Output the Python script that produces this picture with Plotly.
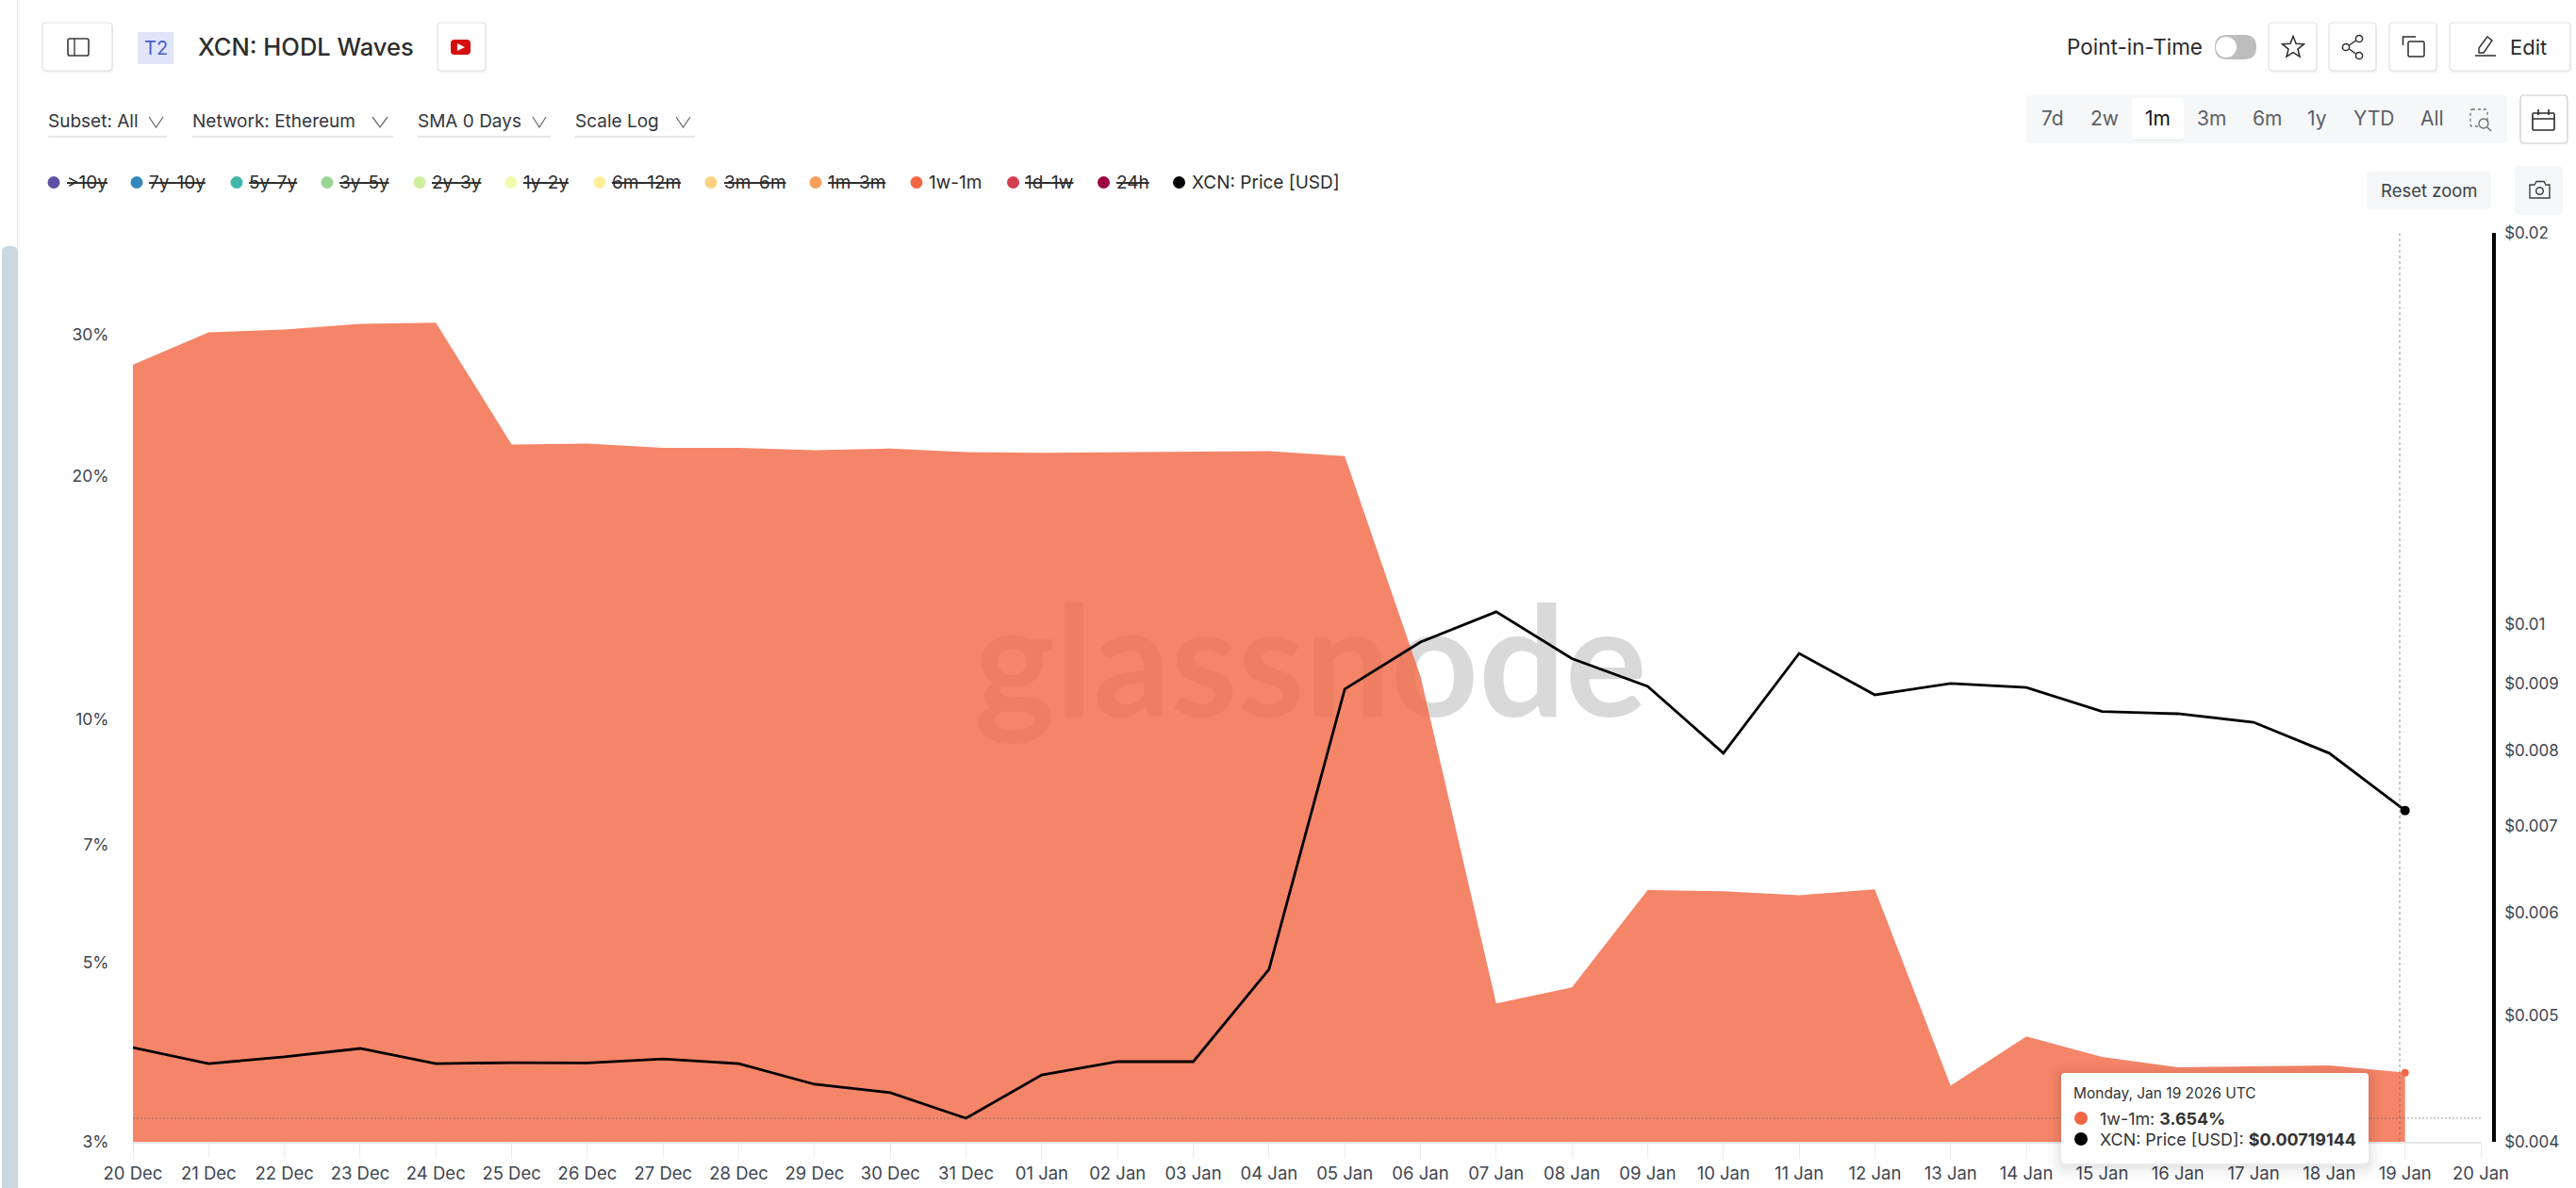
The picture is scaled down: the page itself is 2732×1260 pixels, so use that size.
import math
import re
import plotly.graph_objects as go

# ---------- data ----------
dates = [
    "2025-12-20", "2025-12-21", "2025-12-22", "2025-12-23", "2025-12-24", "2025-12-25",
    "2025-12-26", "2025-12-27", "2025-12-28", "2025-12-29", "2025-12-30", "2025-12-31",
    "2026-01-01", "2026-01-02", "2026-01-03", "2026-01-04", "2026-01-05", "2026-01-06",
    "2026-01-07", "2026-01-08", "2026-01-09", "2026-01-10", "2026-01-11", "2026-01-12",
    "2026-01-13", "2026-01-14", "2026-01-15", "2026-01-16", "2026-01-17", "2026-01-18",
    "2026-01-19",
]
share_1w_1m = [
    27.5, 30.16, 30.4, 30.9, 31.0, 21.9, 21.96, 21.7, 21.7, 21.55, 21.65, 21.44,
    21.39, 21.44, 21.46, 21.5, 21.2, 11.31, 4.45, 4.66, 6.15, 6.13, 6.06, 6.16,
    3.52, 4.05, 3.82, 3.71, 3.72, 3.73, 3.654,
]
price_usd = [
    0.004726, 0.004594, 0.004649, 0.004719, 0.004594, 0.004602, 0.0046, 0.004632,
    0.004594, 0.004429, 0.004363, 0.00417, 0.004503, 0.00461, 0.00461, 0.005429,
    0.008916, 0.009691, 0.010224, 0.009412, 0.008961, 0.00796, 0.009499, 0.008826,
    0.009005, 0.008943, 0.008569, 0.008536, 0.008408, 0.00796, 0.00719144,
]
left_ticks = [3, 5, 7, 10, 20, 30]
left_tick_labels = ["3%", "5%", "7%", "10%", "20%", "30%"]
right_ticks = [0.004, 0.005, 0.006, 0.007, 0.008, 0.009, 0.01, 0.02]
right_tick_labels = ["$0.004", "$0.005", "$0.006", "$0.007", "$0.008", "$0.009", "$0.01", "$0.02"]
legend_names = ["&gt;10y", "7y-10y", "5y-7y", "3y-5y", "2y-3y", "1y-2y", "6m-12m", "3m-6m",
                "1m-3m", "1w-1m", "1d-1w", "24h", "XCN: Price [USD]"]
legend_colors = ["#5E4FA2", "#3288BD", "#3FB6A8", "#99D594", "#CFEE9E", "#F4FAAE", "#FEEF9A",
                 "#FED07E", "#FD9E5A", "#F26644", "#D53E4F", "#9E0142", "#000000"]
legend_hidden = [True, True, True, True, True, True, True, True, True, False, True, True, False]
range_buttons = ["7d", "2w", "1m", "3m", "6m", "1y", "YTD", "All"]
dropdowns = ["Subset: All", "Network: Ethereum", "SMA 0 Days", "Scale Log"]

# ---------- page geometry (pixels) ----------
W, H = 2732, 1260
PLOT_L, PLOT_R, PLOT_T, PLOT_B = 141, 2631, 247, 1211
AXIS2_X = 2645
FONT = "Inter"
INK = "#2B2F36"
TICK = "#3F4550"
BORDER = "#E0E1E3"

shapes, notes = [], []


def fx(x):
    return x / W


def fy(y):
    return 1 - y / H


def conv(path):
    toks = re.findall(r"[A-Za-z]|-?\d+\.?\d*", path)
    out, is_x = [], True
    for t in toks:
        if t.isalpha():
            out.append(t)
            is_x = True
        else:
            v = float(t)
            out.append(f"{fx(v):.6f}" if is_x else f"{fy(v):.6f}")
            is_x = not is_x
    return " ".join(out)


def path(d, color=None, fill=None, width=1.5, layer="above", dash=None):
    line = dict(color=color or "rgba(0,0,0,0)", width=width if color else 0)
    if dash:
        line["dash"] = dash
    shapes.append(dict(type="path", xref="paper", yref="paper", path=conv(d), line=line,
                       fillcolor=fill or "rgba(0,0,0,0)", layer=layer))


def rrect(x0, y0, x1, y1, r=4, color=None, fill=None, width=1.0, dash=None):
    d = (f"M {x0+r} {y0} L {x1-r} {y0} Q {x1} {y0} {x1} {y0+r} L {x1} {y1-r} Q {x1} {y1} {x1-r} {y1} "
         f"L {x0+r} {y1} Q {x0} {y1} {x0} {y1-r} L {x0} {y0+r} Q {x0} {y0} {x0+r} {y0} Z")
    path(d, color, fill, width, dash=dash)


def circle(cx, cy, r, color=None, fill=None, width=1.5):
    shapes.append(dict(type="circle", xref="paper", yref="paper", x0=fx(cx - r), x1=fx(cx + r),
                       y0=fy(cy - r), y1=fy(cy + r), fillcolor=fill or "rgba(0,0,0,0)",
                       line=dict(color=color or "rgba(0,0,0,0)", width=width if color else 0),
                       layer="above"))


def text(x, y, s, size=18, color=INK, anchor="left", strike=False, weight=None):
    font = dict(family=FONT, size=size, color=color)
    if strike:
        font["lineposition"] = "through"
    if weight:
        font["weight"] = weight
    notes.append(dict(xref="paper", yref="paper", x=fx(x), y=fy(y), text=s, showarrow=False,
                      xanchor=anchor, yanchor="middle", font=font, borderpad=0, borderwidth=0))


def button(x0, x1, y0=24, y1=75):
    rrect(x0 + 1, y0 + 2, x1 + 1, y1 + 2, 4, None, "rgba(0,0,0,0.05)")
    rrect(x0, y0, x1, y1, 4, BORDER, "#FFFFFF", 1.2)


def chevron(x0, x1, y=129):
    m = (x0 + x1) / 2
    path(f"M {x0} {y-5} L {m} {y+6} L {x1} {y-5}", "#6B6F76", None, 1.3)


# ---------- page chrome ----------
# scrollbar strip
path(f"M 18.5 0 L 18.5 {H}", "#E3E4E6", None, 1)
rrect(2, 261, 19, 1275, 7, None, "#CBD8E2")

# header left
button(45, 119)
rrect(72, 41, 94, 59, 2, "#3A3A3A", None, 1.6)
path("M 79 41 L 79 59", "#3A3A3A", None, 1.4)
rrect(146, 34, 184, 68, 1, None, "#E1E5FA")
text(165, 51, "T2", 20, "#4A5FD0", "center")
text(210, 50, "XCN: HODL Waves", 25.5, "#2D2D2D", weight=500)
button(464, 515)
rrect(478, 42, 499, 58, 4, None, "#D40E0E")
path("M 485 46 L 493 50 L 485 54 Z", None, "#FFFFFF")

# dropdowns
dd_text_x = [51, 204, 443, 610]
dd_chev = [(158, 173), (395, 411), (565, 579), (717, 732)]
dd_line = [(51, 177), (204, 417), (443, 584), (610, 737)]
for name, tx, ch, ul in zip(dropdowns, dd_text_x, dd_chev, dd_line):
    text(tx, 129, name, 19, "#33373D")
    chevron(*ch)
    path(f"M {ul[0]} 145 L {ul[1]} 145", "#DEDFE1", None, 1.4)

# series key
dot_x = [57, 145, 251, 347, 445, 542, 636, 754, 865, 972, 1074.5, 1170.5, 1250.5]
lab_x = [71, 158, 264, 360, 458, 555, 649, 768, 878, 985, 1087, 1184, 1263.5]
for name, col, hid, dx, lx in zip(legend_names, legend_colors, legend_hidden, dot_x, lab_x):
    circle(dx, 193.5, 6.5, None, col)
    text(lx, 193, name, 19, "#2B2B2B", strike=hid)

# header right
text(2192, 50, "Point-in-Time", 22.5, "#2B2B2B")
rrect(2349, 37, 2393, 63, 13, None, "#BDBDBD")
circle(2361, 50, 11, None, "#FFFFFF")
button(2406, 2457)
star = []
for i in range(10):
    r = 12 if i % 2 == 0 else 5.2
    a = -math.pi / 2 + i * math.pi / 5
    star.append(f"{'M' if i == 0 else 'L'} {2432 + r * math.cos(a):.2f} {50.5 + r * math.sin(a):.2f}")
path(" ".join(star) + " Z", "#2B2B2B", None, 1.5)
button(2470, 2520)
path("M 2491.5 48 L 2498.5 43 M 2491.5 52 L 2498.5 57", "#2B2B2B", None, 1.5)
circle(2502, 41, 3.6, "#2B2B2B")
circle(2488, 50, 3.6, "#2B2B2B")
circle(2502, 59, 3.6, "#2B2B2B")
button(2534, 2584)
rrect(2554, 44, 2571, 60, 1.5, "#2B2B2B", None, 1.5)
path("M 2548.5 48 L 2548.5 39 L 2562 39", "#2B2B2B", None, 1.5)
button(2598, 2726)
path("M 2629 56 L 2629 51 L 2638 39 L 2643 43 L 2634 56 Z", "#2B2B2B", None, 1.4)
path("M 2625 59 L 2647 59", "#2B2B2B", None, 1.5)
text(2662, 50, "Edit", 22, "#2B2B2B")

# range selector
rrect(2149, 101, 2659, 152, 4, None, "#F6F7F9")
rrect(2261, 104, 2316, 149, 3, None, "rgba(0,0,0,0.05)")
rrect(2261, 104, 2316, 148, 3, None, "#FFFFFF")
btn_x = [2177, 2232, 2288, 2345, 2404, 2457, 2517, 2579]
for name, bx in zip(range_buttons, btn_x):
    text(bx, 126, name, 21, "#111111" if name == "1m" else "#5A5F66", "center")
rrect(2620, 116, 2638, 134, 2, "#6A6E74", None, 1.3, dash="3px,3px")
circle(2634, 131, 5, "#6A6E74", "#F6F7F9", 1.4)
path("M 2638 135 L 2642 139", "#6A6E74", None, 1.5)
rrect(2673, 101, 2723, 152, 4, "#C8CACD", "#FFFFFF", 1.2)
rrect(2686, 120, 2709, 138, 1, "#2B2B2B", None, 1.6)
path("M 2686 126 L 2709 126 M 2692 116 L 2692 122 M 2703 116 L 2703 122", "#2B2B2B", None, 1.6)

# chart toolbar
rrect(2510, 182, 2642, 222, 5, None, "#F6F7F9")
text(2576, 202, "Reset zoom", 18.5, "#3A3F47", "center")
rrect(2667, 176, 2718, 228, 5, None, "#F6F7F9")
path("M 2683 196 L 2688 196 L 2690 192.5 L 2698 192.5 L 2700 196 L 2704 196 L 2704 210 L 2683 210 Z",
     "#3A3F47", None, 1.4)
circle(2693.5, 202.5, 3.8, "#3A3F47")

# watermark, drawn beneath the translucent area
shapes.append(dict(type="rect", xref="paper", yref="paper", x0=fx(1000), x1=fx(1780), y0=fy(815), y1=fy(575),
                   line=dict(width=0), fillcolor="rgba(0,0,0,0)", layer="below",
                   label=dict(text="glassnode", textposition="middle center",
                              font=dict(family="Lato", size=162, color="#D9D9D9", weight=700))))

# crosshair
path(f"M {PLOT_L} 1186 L {PLOT_R} 1186", "rgba(110,110,110,0.7)", None, 1.2, dash="2px,2px")
path(f"M 2545 {PLOT_T} L 2545 {PLOT_B}", "rgba(90,110,125,0.7)", None, 1, dash="3px,3px")

# tooltip
for grow, alpha in [(14, 0.012), (10, 0.014), (7, 0.016), (4, 0.02), (2, 0.025)]:
    rrect(2186 - grow, 1138 - grow + 3, 2512 + grow, 1234 + grow + 3, 6 + grow, None, f"rgba(0,0,0,{alpha})")
rrect(2186, 1138, 2512, 1234, 4, None, "#FFFFFF")
text(2199, 1159, "Monday, Jan 19 2026 UTC", 15.5, "#333333")
circle(2207, 1186, 7, None, legend_colors[9])
text(2227, 1186, f"1w-1m: <b>{share_1w_1m[-1]:.3f}%</b>", 17.9, "#333333")
circle(2207, 1208, 7, None, "#000000")
text(2227, 1208, f"XCN: Price [USD]: <b>${price_usd[-1]:.8f}</b>", 17.9, "#333333")

# ---------- chart ----------
fig = go.Figure()
fig.add_trace(go.Scatter(
    x=dates, y=share_1w_1m, name="1w-1m", mode="lines", yaxis="y",
    line=dict(width=0, color=legend_colors[9]), fill="tozeroy", fillcolor="rgba(242,102,68,0.8)",
))
fig.add_trace(go.Scatter(
    x=dates[-1:], y=share_1w_1m[-1:], mode="markers", yaxis="y", showlegend=False,
    marker=dict(size=8, color=legend_colors[9]),
))
fig.add_trace(go.Scatter(
    x=dates, y=price_usd, name="XCN: Price [USD]", mode="lines", yaxis="y2",
    line=dict(width=2.8, color="#000000"),
))
fig.add_trace(go.Scatter(
    x=dates[-1:], y=price_usd[-1:], mode="markers", yaxis="y2", showlegend=False,
    marker=dict(size=10, color="#000000"),
))

fig.update_layout(
    width=W, height=H, margin=dict(l=0, r=0, t=0, b=0), autosize=False,
    paper_bgcolor="#FFFFFF", plot_bgcolor="rgba(0,0,0,0)", showlegend=False,
    font=dict(family=FONT, size=17, color=TICK),
    xaxis=dict(
        type="date", domain=[fx(PLOT_L), fx(PLOT_R)], range=["2025-12-20", "2026-01-20"],
        dtick=86400000, tick0="2025-12-20", tickformat="%d %b", tickangle=0, automargin=False,
        showgrid=False, zeroline=False, showline=True, linecolor="#E4E5E6", linewidth=2,
        ticks="outside", ticklen=16, tickwidth=1, tickcolor="#ECECEC",
        tickfont=dict(family=FONT, size=18.5, color=TICK), anchor="y",
    ),
    yaxis=dict(
        type="log", domain=[fy(PLOT_B), fy(PLOT_T)], range=[math.log10(3), math.log10(40.05)],
        tickvals=left_ticks, ticktext=left_tick_labels, showgrid=False, zeroline=False, showline=False,
        ticks="outside", ticklen=21, tickcolor="rgba(0,0,0,0)", automargin=False,
        tickfont=dict(family=FONT, size=17.5, color=TICK), anchor="x",
    ),
    yaxis2=dict(
        type="log", domain=[fy(PLOT_B), fy(PLOT_T)], range=[math.log10(0.004), math.log10(0.02)],
        overlaying="y", side="right", anchor="free", position=fx(AXIS2_X), automargin=False,
        tickvals=right_ticks, ticktext=right_tick_labels, showgrid=False, zeroline=False,
        showline=True, linecolor="#000000", linewidth=3.5,
        ticks="outside", ticklen=6, tickcolor="rgba(0,0,0,0)",
        tickfont=dict(family=FONT, size=17, color=TICK),
    ),
    shapes=shapes, annotations=notes,
)

fig.write_html(
    "out.html", config=dict(displayModeBar=False),
    post_script="document.body.style.margin='0';document.documentElement.style.overflow='hidden';",
)
